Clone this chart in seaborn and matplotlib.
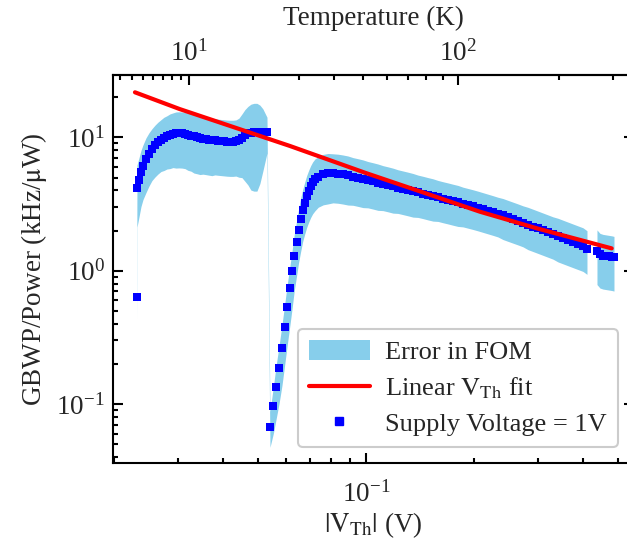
import numpy as np
import pandas as pd
import matplotlib
matplotlib.use("Agg")
import matplotlib.pyplot as plt
import seaborn as sns
from matplotlib.patches import Patch
from matplotlib.lines import Line2D
from matplotlib.ticker import FixedLocator, NullFormatter

# ---------------------------------------------------------------------------
# Measured FOM (GBWP / power) versus threshold voltage, supply = 1 V
# ---------------------------------------------------------------------------
# main temperature sweep
vth_main = [
    0.02307,
    0.02312, 0.02342, 0.02371, 0.02402, 0.02449, 0.02496, 0.02544, 0.02594,
    0.02644, 0.02695, 0.02747, 0.02800, 0.02855, 0.02910, 0.02966, 0.03024,
    0.03082, 0.03142, 0.03203, 0.03265, 0.03328, 0.03392, 0.03458, 0.03525,
    0.03593, 0.03663, 0.03733, 0.03806, 0.03879, 0.03954, 0.04031, 0.04109,
    0.04189, 0.04270, 0.04352, 0.04437, 0.04523, 0.04610, 0.04699, 0.04790,
    0.04883, 0.04978, 0.05074, 0.05172, 0.05309,
    0.05412, 0.05527, 0.05623, 0.05732, 0.05843, 0.05945, 0.06044, 0.06150,
    0.06241, 0.06321, 0.06419, 0.06501, 0.06585, 0.06670, 0.06756, 0.06843,
    0.06931, 0.07020, 0.07110, 0.07215, 0.07370, 0.07610,
    0.07842, 0.08097, 0.08360, 0.08631, 0.08913, 0.09202, 0.09501, 0.09810,
    0.10129, 0.10458, 0.10798, 0.11149, 0.11512, 0.11885, 0.12272, 0.12671,
    0.13083, 0.13508, 0.13947, 0.14401, 0.14869, 0.15352, 0.15849, 0.16365,
    0.16897, 0.17446, 0.18013, 0.18598, 0.19203, 0.19827, 0.20471, 0.21135,
    0.21823, 0.22532, 0.23263, 0.24020, 0.24800, 0.25606, 0.26438, 0.27298,
    0.28184, 0.29100, 0.30046, 0.31023, 0.32031, 0.33071, 0.34145, 0.35255,
    0.36401, 0.37584, 0.38805, 0.40066, 0.41106,
]
fom_main = [
    0.638,
    4.17, 4.79, 5.50, 6.10, 6.89, 7.57, 8.18, 8.70,
    9.16, 9.56, 9.90, 10.16, 10.42, 10.60, 10.70, 10.73,
    10.70, 10.60, 10.48, 10.33, 10.19, 10.07, 9.93, 9.81,
    9.73, 9.64, 9.56, 9.51, 9.45, 9.40, 9.35, 9.30,
    9.27, 9.27, 9.32, 9.48, 9.98, 10.42, 10.73, 10.88,
    10.98, 10.98, 10.98, 10.98, 10.90,
    0.0676, 0.0966, 0.1334, 0.1853, 0.2646, 0.378, 0.534, 0.742,
    0.990, 1.289, 1.651, 2.03, 2.443, 2.854, 3.237, 3.634,
    3.984, 4.32, 4.606, 4.851, 5.074, 5.288,
    5.370, 5.380, 5.343, 5.270, 5.180, 5.074, 4.977, 4.875,
    4.775, 4.677, 4.574, 4.480, 4.388, 4.290, 4.202, 4.116,
    4.031, 3.942, 3.861, 3.782, 3.698, 3.622, 3.548, 3.469,
    3.398, 3.323, 3.254, 3.181, 3.111, 3.042, 2.969, 2.893,
    2.819, 2.747, 2.673, 2.595, 2.515, 2.438, 2.364, 2.288,
    2.213, 2.142, 2.073, 2.006, 1.941, 1.878, 1.818, 1.759,
    1.702, 1.647, 1.594, 1.543, 1.467,
]
# relative uncertainty of each FOM value
rel_err_main = [
    0.33,
    0.49, 0.47, 0.45, 0.44, 0.44, 0.43, 0.42, 0.42,
    0.42, 0.42, 0.43, 0.43, 0.44, 0.44, 0.45, 0.45,
    0.45, 0.45, 0.46, 0.46, 0.47, 0.47, 0.47, 0.46,
    0.46, 0.46, 0.46, 0.45, 0.45, 0.45, 0.45, 0.45,
    0.45, 0.45, 0.45, 0.47, 0.50, 0.55, 0.59, 0.63,
    0.64, 0.64, 0.59, 0.49, 0.30,
    0.30, 0.38, 0.43, 0.46, 0.48, 0.48, 0.48, 0.47,
    0.46, 0.45, 0.44, 0.43, 0.43, 0.42, 0.42, 0.42,
    0.42, 0.42, 0.42, 0.42, 0.41, 0.41,
    0.41, 0.40, 0.40, 0.40, 0.40, 0.39, 0.39, 0.39,
    0.38, 0.38, 0.38, 0.37, 0.37, 0.37, 0.36, 0.36,
    0.36, 0.36, 0.35, 0.35, 0.35, 0.35, 0.34, 0.34,
    0.34, 0.34, 0.34, 0.33, 0.33, 0.33, 0.33, 0.33,
    0.33, 0.33, 0.33, 0.34, 0.34, 0.34, 0.34, 0.34,
    0.35, 0.35, 0.35, 0.35, 0.35, 0.35, 0.36, 0.36,
    0.36, 0.36, 0.36, 0.36, 0.36,
]

# high-temperature sweep
vth_hot = [0.43820, 0.44668, 0.45534, 0.46416, 0.47315, 0.48232, 0.48853]
fom_hot = [1.405, 1.323, 1.300, 1.289, 1.278, 1.267, 1.256]
rel_err_hot = [0.44, 0.44, 0.44, 0.44, 0.44, 0.44, 0.44]

# linear V_Th fit
fit_vth = [0.02282, 0.0304, 0.0615, 0.1, 0.2073, 0.3, 0.4814]
fit_fom = [21.79, 16.3, 8.62, 5.4, 2.77, 2.07, 1.47]

# threshold voltage versus temperature (for the top axis)
cal_temp = [0.0, 10.0, 100.0, 200.0, 300.0, 1000.0]
cal_vth = [0.01581, 0.03224, 0.1801, 0.3444, 0.4849, 1.4684]

temp_major = [10, 100]
temp_minor = [3, 4, 5, 6, 7, 8, 9, 20, 30, 40, 50, 60, 70, 80, 90, 200, 300]

# ---------------------------------------------------------------------------
sns.set_theme(style="ticks")
plt.rcParams["font.family"] = ["serif"]
plt.rcParams["font.serif"] = ["Liberation Serif"]
plt.rcParams["mathtext.fontset"] = "stix"
plt.rcParams["axes.edgecolor"] = "black"
plt.rcParams["axes.linewidth"] = 1.5

FS = 19.5
fig = plt.figure(figsize=(6.27, 5.48), dpi=100)
ax = fig.add_axes([0.18022, 0.15511, 0.83094, 0.70803])

main = pd.DataFrame({"vth": vth_main, "fom": fom_main, "err": rel_err_main})
hot = pd.DataFrame({"vth": vth_hot, "fom": fom_hot, "err": rel_err_hot})

band_color = "#87CEEB"
for d in (main, hot):
    ax.fill_between(d["vth"], d["fom"] * (1 - d["err"]), d["fom"] * (1 + d["err"]),
                    color=band_color, linewidth=0, zorder=1)

pts = pd.concat([main, hot], ignore_index=True)
sns.scatterplot(data=pts, x="vth", y="fom", ax=ax, marker="s", s=38,
                color="#0000FF", linewidth=0, zorder=2, legend=False)

fit = pd.DataFrame({"vth": fit_vth, "fom": fit_fom})
sns.lineplot(data=fit, x="vth", y="fom", ax=ax, color="#FF0000", lw=3,
             zorder=3, legend=False, sort=False)

ax.set_xscale("log")
ax.set_yscale("log")
ax.set_xlim(0.019828, 0.55527)
ax.set_ylim(0.03609, 29.38)

ax.set_xlabel(r"$|\mathrm{V_{Th}}|$ (V)", fontsize=FS, labelpad=2)
ax.set_ylabel(r"GBWP/Power (kHz/$\mathrm{\mu}$W)", fontsize=FS, labelpad=5)

ax.tick_params(which="both", direction="in", top=False, right=True,
               labelsize=FS, width=1.5, color="black")
ax.tick_params(which="major", length=7, pad=6)
ax.tick_params(which="minor", length=3.6)
ax.tick_params(axis="x", which="major", pad=13)


def v_to_t(v):
    v = np.asarray(v, dtype=float)
    return np.maximum(np.interp(v, cal_vth, cal_temp), 1e-3)


def t_to_v(t):
    t = np.asarray(t, dtype=float)
    return np.maximum(np.interp(t, cal_temp, cal_vth), 1e-6)


sec = ax.secondary_xaxis("top", functions=(v_to_t, t_to_v))
sec.xaxis.set_major_locator(FixedLocator(temp_major))
sec.xaxis.set_minor_locator(FixedLocator(temp_minor))
sec.xaxis.set_minor_formatter(NullFormatter())
sec.set_xlabel("Temperature (K)", fontsize=FS, labelpad=11)
sec.tick_params(which="both", direction="in", labelsize=FS, width=1.5,
                color="black", pad=6)
sec.tick_params(which="major", length=7)
sec.tick_params(which="minor", length=3.6)

handles = [
    Patch(facecolor=band_color, edgecolor="none", label="Error in FOM"),
    Line2D([], [], color="#FF0000", lw=3, label=r"Linear $\mathrm{V_{Th}}$ fit"),
    Line2D([], [], color="#0000FF", marker="s", ms=5.5, ls="none",
           label="Supply Voltage = 1V"),
]
leg = ax.legend(handles=handles, loc="lower right", fontsize=19,
                frameon=True, fancybox=True, framealpha=1.0,
                edgecolor="#cccccc", handlelength=2.3, handleheight=0.8,
                handletextpad=0.6, labelspacing=0.42, borderpad=0.42,
                borderaxespad=0.6)
leg.get_frame().set_linewidth(1.5)

fig.savefig("out.png", dpi=100)
